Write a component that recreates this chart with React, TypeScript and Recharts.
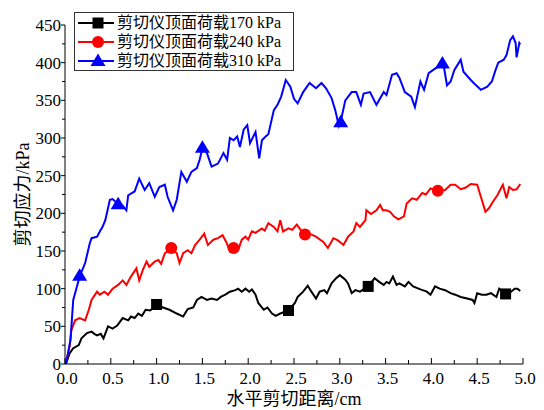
import React from "react";
import { ComposedChart, Line, Scatter, XAxis, YAxis, Legend, Label } from "recharts";

type Pt = [number, number];

// horizontal shear displacement (cm) vs shear stress (kPa)
const load170: Pt[] = [
  [0.01, 0], [0.05, 14], [0.09, 21], [0.15, 25], [0.18, 34], [0.24, 41], [0.29, 43], [0.32, 40],
  [0.35, 38], [0.39, 40], [0.42, 34], [0.47, 50], [0.52, 47], [0.57, 51], [0.63, 61], [0.69, 58],
  [0.72, 63], [0.76, 61], [0.8, 67], [0.84, 64], [0.88, 72], [0.93, 71], [1.0, 78], [1.07, 75],
  [1.14, 72], [1.22, 67], [1.29, 63], [1.34, 73], [1.4, 75], [1.44, 85], [1.49, 89], [1.55, 85],
  [1.6, 87], [1.66, 85], [1.7, 89], [1.75, 92], [1.8, 96], [1.86, 98], [1.89, 100], [1.93, 96],
  [1.97, 100], [2.01, 96], [2.04, 99], [2.08, 92], [2.11, 81], [2.17, 72], [2.21, 75], [2.26, 67],
  [2.3, 64], [2.35, 67], [2.44, 71], [2.51, 81], [2.54, 89], [2.6, 96], [2.65, 104], [2.69, 96],
  [2.74, 87], [2.78, 96], [2.83, 98], [2.86, 94], [2.91, 107], [2.96, 114], [3.0, 118], [3.06, 112],
  [3.09, 107], [3.13, 94], [3.17, 98], [3.22, 96], [3.31, 103], [3.38, 114], [3.43, 109], [3.48, 105],
  [3.51, 109], [3.54, 107], [3.58, 116], [3.62, 105], [3.65, 107], [3.71, 103], [3.75, 109], [3.8, 103],
  [3.88, 99], [3.95, 96], [3.99, 92], [4.04, 103], [4.09, 100], [4.15, 98], [4.21, 94], [4.26, 92],
  [4.32, 89], [4.39, 87], [4.45, 85], [4.47, 81], [4.5, 94], [4.55, 92], [4.6, 92], [4.65, 94],
  [4.71, 89], [4.74, 100], [4.81, 93], [4.86, 95], [4.91, 100], [4.94, 100], [4.97, 97],
];

const load240: Pt[] = [
  [0.01, 0], [0.05, 23], [0.07, 45], [0.11, 58], [0.16, 61], [0.22, 58], [0.26, 72], [0.29, 85],
  [0.35, 96], [0.38, 92], [0.43, 96], [0.47, 92], [0.52, 100], [0.58, 105], [0.63, 111], [0.67, 105],
  [0.72, 116], [0.78, 127], [0.81, 111], [0.85, 125], [0.89, 136], [0.92, 129], [0.98, 136], [1.02, 138],
  [1.05, 133], [1.09, 147], [1.16, 154], [1.22, 147], [1.25, 134], [1.29, 147], [1.34, 151], [1.38, 147],
  [1.42, 158], [1.47, 165], [1.52, 173], [1.56, 158], [1.62, 165], [1.67, 167], [1.72, 171], [1.76, 162],
  [1.8, 150], [1.84, 154], [1.89, 151], [1.93, 165], [1.97, 169], [2.0, 165], [2.04, 176], [2.08, 174],
  [2.15, 180], [2.18, 177], [2.22, 187], [2.28, 182], [2.32, 176], [2.35, 191], [2.38, 176], [2.44, 180],
  [2.48, 178], [2.53, 185], [2.61, 172], [2.67, 173], [2.74, 169], [2.82, 162], [2.87, 154], [2.93, 167],
  [2.98, 164], [3.04, 158], [3.09, 169], [3.15, 176], [3.18, 187], [3.22, 182], [3.28, 191], [3.29, 204],
  [3.34, 199], [3.4, 204], [3.44, 211], [3.47, 204], [3.51, 204], [3.55, 202], [3.59, 196], [3.64, 192],
  [3.7, 196], [3.73, 213], [3.79, 220], [3.84, 218], [3.9, 227], [3.94, 225], [3.99, 233], [4.07, 230],
  [4.15, 231], [4.21, 238], [4.26, 238], [4.32, 232], [4.37, 234], [4.43, 239], [4.5, 238], [4.54, 222],
  [4.59, 202], [4.63, 207], [4.67, 215], [4.72, 224], [4.78, 238], [4.82, 220], [4.85, 235], [4.89, 231],
  [4.93, 232], [4.97, 239],
];

const load310: Pt[] = [
  [0.01, 0], [0.06, 32], [0.09, 85], [0.11, 94], [0.16, 116], [0.22, 134], [0.27, 160], [0.29, 167],
  [0.35, 169], [0.38, 176], [0.41, 182], [0.44, 191], [0.49, 218], [0.52, 219], [0.58, 212], [0.63, 210],
  [0.67, 204], [0.69, 224], [0.76, 229], [0.81, 246], [0.87, 231], [0.92, 240], [0.98, 222], [1.03, 235],
  [1.09, 238], [1.12, 222], [1.18, 204], [1.22, 218], [1.27, 255], [1.33, 242], [1.38, 255], [1.44, 260],
  [1.47, 271], [1.5, 286], [1.55, 280], [1.6, 262], [1.67, 266], [1.73, 280], [1.77, 271], [1.8, 300],
  [1.84, 297], [1.88, 302], [1.91, 288], [1.95, 311], [1.99, 317], [2.02, 293], [2.08, 308], [2.12, 273],
  [2.15, 297], [2.19, 302], [2.22, 305], [2.28, 337], [2.32, 344], [2.36, 355], [2.41, 377], [2.46, 368],
  [2.5, 352], [2.54, 346], [2.6, 361], [2.67, 373], [2.74, 366], [2.8, 373], [2.85, 366], [2.91, 353],
  [2.95, 337], [2.99, 316], [3.01, 322], [3.06, 350], [3.13, 361], [3.18, 361], [3.23, 344], [3.26, 359],
  [3.33, 361], [3.4, 344], [3.48, 361], [3.51, 357], [3.57, 384], [3.62, 386], [3.65, 380], [3.71, 361],
  [3.78, 355], [3.82, 341], [3.88, 375], [3.92, 364], [3.97, 386], [4.04, 392], [4.13, 399], [4.17, 370],
  [4.21, 375], [4.25, 390], [4.32, 404], [4.35, 388], [4.43, 377], [4.47, 372], [4.54, 364], [4.61, 368],
  [4.66, 375], [4.7, 390], [4.73, 400], [4.79, 404], [4.82, 410], [4.86, 430], [4.89, 435], [4.92, 426],
  [4.93, 407], [4.96, 426], [4.97, 424],
];

// marker positions on each curve
const marks170: Pt[] = [[1.0, 79], [2.44, 71], [3.31, 103], [4.81, 93]];
const marks240: Pt[] = [[1.16, 154], [1.84, 154], [2.62, 172], [4.07, 230]];
const marks310: Pt[] = [[0.16, 117], [0.58, 212], [1.5, 287], [3.01, 321], [4.12, 399]];

const seriesNames = ["剪切仪顶面荷载170 kPa", "剪切仪顶面荷载240 kPa", "剪切仪顶面荷载310 kPa"];
const seriesColors = ["#000000", "#ff0000", "#0000ff"];
const seriesShapes = ["square", "circle", "triangle"];

const xLabelTicks = [0, 0.5, 1, 1.5, 2, 2.5, 3, 3.5, 4, 4.5, 5];
const xMinorTicks = [0.25, 0.75, 1.25, 1.75, 2.25, 2.75, 3.25, 3.75, 4.25, 4.75];
const yLabelTicks = [0, 50, 100, 150, 200, 250, 300, 350, 400, 450];
const yMinorTicks = [25, 75, 125, 175, 225, 275, 325, 375, 425];

const FONT = "'Liberation Serif', 'Times New Roman', 'Noto Sans CJK SC', serif";

const rows = (pts: Pt[]) => pts.map(([x, y]) => ({ x, y }));
const curves = [load170, load240, load310].map(rows);
const markers = [marks170, marks240, marks310].map(rows);

const Marker = ({ kind, cx, cy, color }: { kind: string; cx: number; cy: number; color: string }) => {
  if (kind === "square") return <rect x={cx - 5.5} y={cy - 5.5} width={11} height={11} fill={color} />;
  if (kind === "circle") return <circle cx={cx} cy={cy} r={6} fill={color} />;
  return <polygon points={`${cx},${cy - 7.5} ${cx + 7.5},${cy + 5} ${cx - 7.5},${cy + 5}`} fill={color} />;
};

const XTick = (props: any) => {
  const { x, y, payload } = props;
  const v = payload.value as number;
  const major = xLabelTicks.includes(v);
  return (
    <g>
      <line x1={x} x2={x} y1={y} y2={y - (major ? 6 : 4)} stroke="#000" />
      {major && (
        <text x={x + 2} y={y + 20} textAnchor="middle" fontSize={17} fontFamily={FONT} fill="#000">
          {v.toFixed(1)}
        </text>
      )}
    </g>
  );
};

const YTick = (props: any) => {
  const { x, y, payload } = props;
  const v = payload.value as number;
  const major = yLabelTicks.includes(v);
  return (
    <g>
      <line x1={x} x2={x - (major ? 4 : 3)} y1={y} y2={y} stroke="#000" />
      {major && (
        <text x={x - 4} y={y} dy="0.35em" textAnchor="end" fontSize={17} fontFamily={FONT} fill="#000">
          {v}
        </text>
      )}
    </g>
  );
};

const LegendBox = () => (
  <div
    style={{
      border: "1px solid #333",
      background: "#fff",
      fontFamily: FONT,
      fontSize: 16,
      lineHeight: "19px",
      padding: "0 12px 0 3px",
    }}
  >
    {seriesNames.map((name, i) => (
      <div key={name} style={{ display: "flex", alignItems: "center", height: 19 }}>
        <svg width={36} height={16}>
          <line x1={0} x2={36} y1={8} y2={8} stroke={seriesColors[i]} strokeWidth={2} />
          <Marker kind={seriesShapes[i]} cx={20} cy={8} color={seriesColors[i]} />
        </svg>
        <span style={{ marginLeft: 3, whiteSpace: "nowrap" }}>{name}</span>
      </div>
    ))}
  </div>
);

export default function App() {
  return (
    <div style={{ position: "absolute", left: 0, top: 0, width: 544, height: 410, background: "#fff" }}>
      <ComposedChart width={544} height={410} margin={{ top: 25, right: 21, bottom: 0, left: 0 }}>
        <XAxis
          type="number"
          dataKey="x"
          domain={[0, 5]}
          ticks={[...xLabelTicks, ...xMinorTicks].sort((a, b) => a - b)}
          interval={0}
          tickSize={0}
          tickMargin={0}
          tick={<XTick />}
          axisLine={{ stroke: "#000" }}
          height={46}
          allowDataOverflow
        >
          <Label
            content={({ viewBox }: any) => (
              <text
                x={viewBox.x + viewBox.width / 2}
                y={viewBox.y + 41}
                textAnchor="middle"
                fontSize={18}
                fontFamily={FONT}
                fill="#000"
              >
                水平剪切距离/cm
              </text>
            )}
          />
        </XAxis>
        <YAxis
          type="number"
          dataKey="y"
          domain={[0, 450]}
          ticks={[...yLabelTicks, ...yMinorTicks].sort((a, b) => a - b)}
          interval={0}
          tickSize={0}
          tickMargin={0}
          tick={<YTick />}
          axisLine={{ stroke: "#000" }}
          width={65}
          allowDataOverflow
        >
          <Label
            content={({ viewBox }: any) => {
              const cx = viewBox.x + 23;
              const cy = viewBox.y + viewBox.height / 2;
              return (
                <text
                  x={cx}
                  y={cy}
                  dy="0.35em"
                  transform={`rotate(-90 ${cx} ${cy})`}
                  textAnchor="middle"
                  fontSize={18}
                  fontFamily={FONT}
                  fill="#000"
                >
                  剪切应力/kPa
                </text>
              );
            }}
          />
        </YAxis>
        <Legend
          layout="vertical"
          align="center"
          verticalAlign="middle"
          content={<LegendBox />}
          wrapperStyle={{ left: 74, top: 12, width: "auto", height: "auto" }}
        />
        {curves.map((data, i) => (
          <Line
            key={seriesNames[i]}
            data={data}
            dataKey="y"
            name={seriesNames[i]}
            type="linear"
            stroke={seriesColors[i]}
            strokeWidth={2}
            dot={false}
            activeDot={false}
            isAnimationActive={false}
            legendType="none"
          />
        ))}
        {markers.map((data, i) => (
          <Scatter
            key={`m-${seriesNames[i]}`}
            data={data}
            dataKey="y"
            fill={seriesColors[i]}
            isAnimationActive={false}
            legendType="none"
            shape={(p: any) => <Marker kind={seriesShapes[i]} cx={p.cx} cy={p.cy} color={seriesColors[i]} />}
          />
        ))}
      </ComposedChart>
    </div>
  );
}
